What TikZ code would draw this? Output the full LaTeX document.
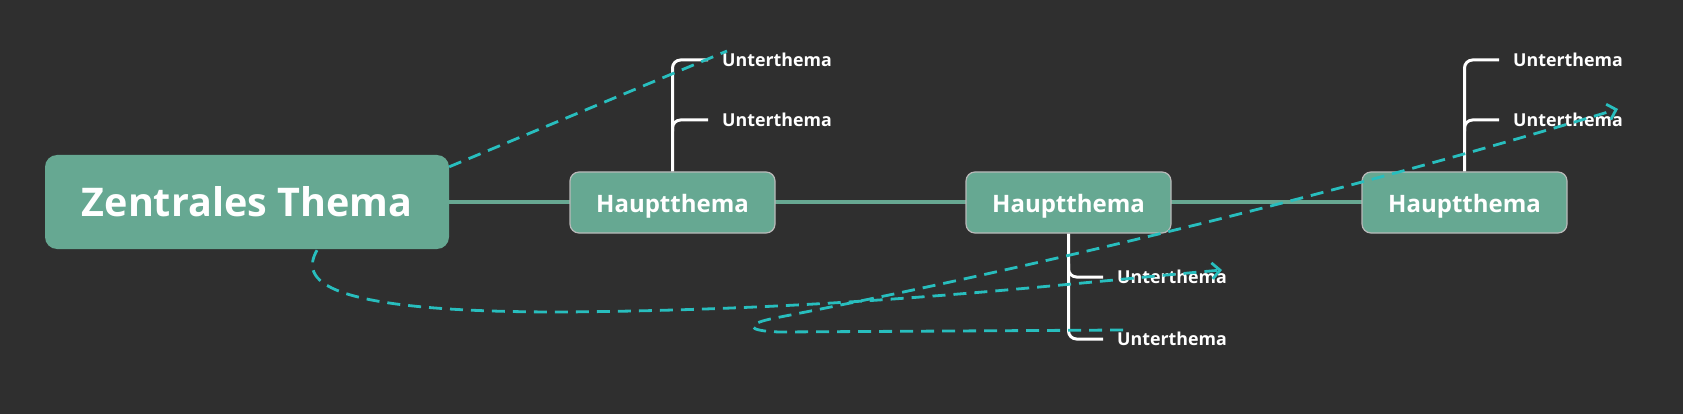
\documentclass[tikz,border=0pt]{standalone}
\usepackage{fontspec}
\setmainfont{Open Sans}
\usetikzlibrary{arrows.meta,calc}
\definecolor{bg}{RGB}{47,47,47}
\definecolor{nodegreen}{RGB}{102,168,146}
\definecolor{linegreen}{RGB}{103,168,146}
\definecolor{dashcyan}{RGB}{40,190,190}
\definecolor{hborder}{RGB}{185,185,185}
\begin{document}
\begin{tikzpicture}[x=1pt,y=-1pt,
  central/.style={fill=nodegreen, rounded corners=12pt, minimum width=404pt, minimum height=94pt, text=white,
    font=\fontsize{39.5}{44}\selectfont\bfseries, inner sep=0pt, text height=28.2pt, text depth=0pt},
  hbox/.style={fill=nodegreen, draw=hborder, line width=1.2pt, rounded corners=9pt, minimum width=205pt,
    minimum height=61pt, text=white, font=\fontsize{24}{28}\selectfont\bfseries, inner sep=0pt,
    text height=19.8pt, text depth=0pt},
  sub/.style={anchor=west, inner sep=0pt, text=white, font=\fontsize{17.8}{22}\selectfont\bfseries,
    text height=13.7pt, text depth=0pt},
  spine/.style={draw=linegreen, line width=4pt},
  branch/.style={draw=white, line width=3pt, rounded corners=8pt},
  rel/.style={draw=dashcyan, line width=2.8pt, dash pattern=on 13pt off 8pt},
  relarrow/.style={rel, -{Straight Barb[length=8pt,width=16pt]}}
]
\fill[bg] (0,0) rectangle (1683,414);
\useasboundingbox (0,0) rectangle (1683,414);

% spine
\coordinate (sp1) at (449,202);
\coordinate (sp2) at (1362,202);
\draw[spine] (sp1) -- (sp2);

% nodes
\node[central] (c) at (247,202) {Zentrales Thema};
\node[hbox] (h1) at (672.5,202.5) {Hauptthema};
\node[hbox] (h2) at (1068.5,202.5) {Hauptthema};
\node[hbox] (h3) at (1464.5,202.5) {Hauptthema};

\node[sub] (u1a) at (722,60) {Unterthema};
\node[sub] (u1b) at (722,120) {Unterthema};
\node[sub] (u2a) at (1117,277) {Unterthema};
\node[sub] (u2b) at (1117,339) {Unterthema};
\node[sub] (u3a) at (1513,60) {Unterthema};
\node[sub] (u3b) at (1513,120) {Unterthema};

% branches
\draw[branch] (h1.north) |- ($(u1a.west)+(-14,0)$);
\draw[branch] ($(h1.north)+(0,-40)$) |- ($(u1b.west)+(-14,0)$);
\draw[branch] (h3.north) |- ($(u3a.west)+(-14,0)$);
\draw[branch] ($(h3.north)+(0,-40)$) |- ($(u3b.west)+(-14,0)$);
\draw[branch] (h2.south) |- ($(u2b.west)+(-14,0)$);
\draw[branch] ($(h2.south)+(0,30)$) |- ($(u2a.west)+(-14,0)$);

% relation lines
\draw[rel] ($(c.north east)+(0,12)$) -- ($(u1a.west)+(5,-9)$);
\draw[relarrow] ($(c.south)+(70,1)$) .. controls (300,280) and (320,312) .. (560,312)
  .. controls (850,310) and (1050,285) .. ($(u2a.west)+(105,-7)$);
\draw[relarrow] ($(u2b.west)+(6,-9)$) -- (780,332) .. controls (745,331) and (745,324) .. (775,318)
  .. controls (1100,255) and (1400,175) .. ($(u3b.west)+(105,-11)$);
\end{tikzpicture}
\end{document}
